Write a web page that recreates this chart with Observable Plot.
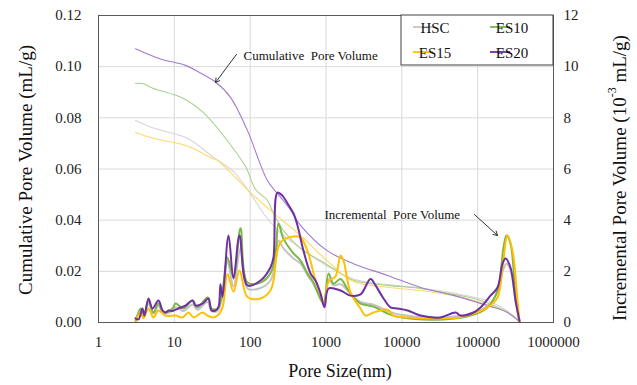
<!DOCTYPE html>
<html><head><meta charset="utf-8">
<script src="https://cdn.jsdelivr.net/npm/d3@7"></script>
<script src="https://cdn.jsdelivr.net/npm/@observablehq/plot@0.6"></script>
<style>
html,body{margin:0;padding:0;background:#fff;}
svg text{white-space:pre;}
</style></head><body><div id="chart"></div>
<script>
// ---- data ----
const series = ["HSC", "ES10", "ES15", "ES20"];
const incColors = ["#c4c4c4", "#7ab648", "#ffc000", "#7030a0"];
const cumColors = ["#d6d6d6", "#a9d18e", "#ffd966", "#a07ccc"];
const xTicks = [1, 10, 100, 1000, 10000, 100000, 1000000];
const yTicksLeft = [0, 0.02, 0.04, 0.06, 0.08, 0.10, 0.12];
const yTicksRight = [0, 2, 4, 6, 8, 10, 12];

// cumulative pore volume (mL/g) : [pore size nm, value]
const cumHSC = [[3.08,0.079],[5.31,0.076],[14.9,0.072],[32.9,0.0645],[60.3,0.059],[101,0.0504],[150,0.0426],[251,0.035],[461,0.029],[1047,0.022],[2305,0.017],[6475,0.0148],[17640,0.0135],[48080,0.0115],[134900,0.0085],[247200,0.0045],[367000,0]];
const cumES10 = [[3.08,0.0934],[3.8,0.0934],[5.31,0.0915],[13.2,0.0876],[24.2,0.082],[44.5,0.073],[86.8,0.061],[118,0.052],[169,0.0477],[203,0.0426],[290,0.035],[461,0.029],[1047,0.0225],[2305,0.0165],[6475,0.0145],[17640,0.0133],[48080,0.011],[109000,0.0086],[247200,0.004],[367000,0]];
const cumES15 = [[3.08,0.0743],[5.31,0.072],[14.9,0.069],[30.0,0.0645],[37.1,0.0633],[60.3,0.0575],[101,0.0508],[185,0.0438],[461,0.034],[1047,0.024],[2305,0.016],[6475,0.0138],[17640,0.0125],[48080,0.0105],[109000,0.0078],[247200,0.004],[367000,0]];
const cumES20 = [[3.08,0.107],[6.57,0.103],[14.0,0.1005],[22.1,0.0975],[34.9,0.094],[55.0,0.088],[92.2,0.075],[169,0.0555],[251,0.049],[340,0.044],[461,0.038],[1047,0.028],[2305,0.023],[6475,0.0184],[17640,0.0137],[48080,0.0106],[134900,0.0066],[247200,0.0039],[367000,0]];

// incremental pore volume (10^-3 mL/g) : [pore size nm, value]
const incHSC = [[3.08,0.1],[3.58,0.5],[3.92,0.2],[4.56,0.75],[5.31,0.35],[6.18,0.65],[7.2,0.35],[9.46,0.45],[10.4,0.6],[13.2,0.45],[17.4,0.7],[20.2,0.5],[27.4,0.8],[30.9,0.45],[37.1,0.45],[43.2,1.0],[50.2,2.4],[60.3,1.4],[74.6,2.9],[92.2,1.33],[137,1.35],[185,1.64],[216,2.4],[236,3.2],[275,2.9],[373,2.5],[461,2.3],[570,1.85],[684,1.5],[927,0.8],[1080,1.7],[1256,1.45],[1553,1.5],[1922,1.25],[2305,1.0],[2852,0.8],[4236,0.7],[6475,0.45],[9610,0.3],[35480,0.2],[80530,0.35],[134900,0.65],[182800,1.2],[219200,2.1],[239900,2.3],[270900,2.05],[315600,0.85],[356200,0.05]];
const incES10 = [[3.08,0.02],[3.58,0.55],[3.92,0.2],[4.56,0.86],[5.31,0.39],[6.18,0.74],[7.2,0.39],[9.46,0.55],[10.4,0.74],[13.2,0.55],[17.4,0.86],[20.2,0.59],[27.4,0.98],[30.9,0.55],[37.1,0.55],[43.2,1.25],[50.2,2.54],[60.3,1.76],[74.6,3.68],[92.2,1.56],[137,1.56],[185,1.92],[216,2.7],[236,3.87],[275,3.28],[373,2.7],[461,2.42],[570,1.92],[684,1.56],[927,0.74],[1080,1.92],[1256,1.52],[1553,1.7],[1922,1.3],[2305,0.98],[2852,0.74],[4236,0.62],[6475,0.35],[9610,0.2],[35480,0.12],[80530,0.27],[134900,0.59],[182800,1.25],[219200,2.93],[239900,3.4],[270900,3.09],[315600,1.13],[356200,0.05]];
const incES15 = [[3.08,0.08],[3.58,0.39],[3.92,0.16],[4.56,0.55],[5.31,0.2],[6.18,0.47],[7.65,0.27],[10.4,0.27],[12.8,0.2],[15.4,0.39],[17.9,0.2],[23.5,0.39],[27.4,0.27],[31.9,0.2],[37.1,0.27],[43.2,0.59],[50.2,1.9],[60.3,1.2],[72.3,2.03],[92.2,1.0],[137,0.94],[185,1.25],[203,1.64],[251,3.13],[373,3.36],[461,3.32],[570,2.8],[727,1.64],[847,1.13],[955,0.66],[1080,1.6],[1334,1.8],[1553,2.62],[1702,2.42],[2105,1.17],[2852,0.55],[3320,0.27],[4236,0.39],[6475,0.5],[7770,0.27],[11900,0.2],[29550,0.16],[59430,0.2],[88150,0.35],[134900,0.59],[182800,0.98],[212800,2.15],[247200,3.4],[288200,2.8],[335200,0.86],[356200,0.05]];
const incES20 = [[3.08,0.16],[3.37,0.12],[3.8,0.55],[4.04,0.27],[4.56,0.94],[5.15,0.55],[6.18,0.86],[6.98,0.47],[7.65,0.39],[8.38,0.47],[9.46,0.45],[11.35,0.55],[14.0,0.66],[17.4,0.86],[19.0,0.66],[23.5,0.74],[28.2,0.94],[30.9,0.47],[34.9,0.47],[38.2,0.6],[40.6,1.5],[43.2,1.0],[51.8,3.4],[60.3,1.72],[72.3,3.4],[92.2,1.45],[137,1.64],[185,2.15],[203,2.54],[229,5.08],[267,4.95],[311,4.65],[373,4.26],[421,3.79],[505,2.8],[625,1.92],[727,1.64],[847,1.13],[955,0.6],[1080,1.33],[1553,1.25],[2105,1.05],[2852,1.1],[3866,1.7],[4500,1.45],[5735,0.94],[7097,0.59],[8770,0.55],[11900,0.47],[17640,0.27],[32360,0.2],[51080,0.39],[59430,0.27],[88150,0.39],[109000,0.59],[147700,1.05],[182800,1.37],[212800,2.3],[232900,2.5],[270900,2.15],[315600,0.86],[356200,0.05]];

// annotations
const annText = ["Cumulative  Pore Volume", "Incremental  Pore Volume"];
const annX = [81.7, 956];
const annY = [0.1044, 0.0422];
const arrX1 = [66, 90800], arrY1 = [0.1048, 0.0422];
const arrX2 = [34.9, 183000], arrY2 = [0.0938, 0.034];

// ---- chart ----
const cumAll = [cumHSC, cumES10, cumES15, cumES20];
const incAll = [incHSC, incES10, incES15, incES20];
const k = yTicksLeft[yTicksLeft.length - 1] / yTicksRight[yTicksRight.length - 1];
const font = "'Liberation Serif', 'Times New Roman', serif";

const marks = [
  Plot.gridY(yTicksLeft, {stroke: "#d9d9d9", strokeOpacity: 1}),
  Plot.gridX(xTicks, {stroke: "#d9d9d9", strokeOpacity: 1}),
];
cumAll.forEach((arr, i) => marks.push(
  Plot.line(arr, {x: d => d[0], y: d => d[1], stroke: cumColors[i], strokeWidth: 1.1, curve: "catmull-rom"})
));
incAll.forEach((arr, i) => marks.push(
  Plot.line(arr, {x: d => d[0], y: d => d[1] * k, stroke: incColors[i], strokeWidth: 2, curve: "catmull-rom"})
));
marks.push(
  Plot.frame({stroke: "#595959"}),
  Plot.axisX(xTicks, {tickFormat: d3.format("d"), tickSize: 0, tickPadding: 14, label: null, fill: "#222"}),
  Plot.axisY(yTicksLeft, {tickFormat: d3.format(".2f"), tickSize: 0, tickPadding: 17, label: null, fill: "#222"}),
  Plot.axisY(yTicksRight.map(v => v * k), {anchor: "right", tickFormat: d => String(Math.round(d / k)), tickSize: 0, tickPadding: 10, label: null, fill: "#222"}),
  Plot.text(d3.range(annText.length), {x: i => annX[i], y: i => annY[i], text: i => annText[i], textAnchor: "start", fontSize: 13, fill: "#111"}),
  Plot.arrow(d3.range(arrX1.length), {x1: i => arrX1[i], y1: i => arrY1[i], x2: i => arrX2[i], y2: i => arrY2[i], stroke: "#333", strokeWidth: 1, headLength: 7})
);

const chart = Plot.plot({
  width: 637, height: 385,
  marginLeft: 98, marginRight: 84, marginTop: 15, marginBottom: 63,
  x: {type: "log", domain: [1, 1000000]},
  y: {domain: [0, 0.12]},
  style: {fontFamily: font, fontSize: "15px", color: "#222", background: "#fff"},
  marks
});
document.getElementById("chart").appendChild(chart);

// titles and legend
const svg = d3.select(chart);
svg.append("text").attr("transform", "translate(25,170) rotate(-90)")
  .attr("text-anchor", "middle").attr("dominant-baseline", "central")
  .attr("font-size", 19).attr("font-family", font).attr("fill", "#111")
  .text("Cumulative Pore Volume (mL/g)");
const rt = svg.append("text").attr("transform", "translate(619,178) rotate(-90)")
  .attr("text-anchor", "middle").attr("dominant-baseline", "central")
  .attr("font-size", 19).attr("font-family", font).attr("fill", "#111");
rt.append("tspan").text("Incremental Pore Volume (10");
rt.append("tspan").attr("font-size", 12).attr("dy", -7).text("-3");
rt.append("tspan").attr("dy", 7).text(" mL/g)");
svg.append("text").attr("x", 340).attr("y", 377)
  .attr("text-anchor", "middle").attr("font-size", 18).attr("font-family", font).attr("fill", "#111")
  .text("Pore Size(nm)");

const lg = svg.append("g");
lg.append("rect").attr("x", 401).attr("y", 15).attr("width", 152).attr("height", 50)
  .attr("fill", "#fff").attr("stroke", "#404040").attr("stroke-width", 1);
const pos = [[413, 27], [490, 27], [413, 52], [490, 52]];
series.forEach((s, i) => {
  const [x0, y0] = pos[i];
  lg.append("line").attr("x1", x0).attr("x2", x0 + 20).attr("y1", y0).attr("y2", y0)
    .attr("stroke", incColors[i]).attr("stroke-width", 1.8);
  lg.append("text").attr("x", x0 + 22).attr("y", y0 + 5.5)
    .attr("font-size", 15).attr("font-family", font).attr("fill", "#111").text(s);
});
</script></body></html>
